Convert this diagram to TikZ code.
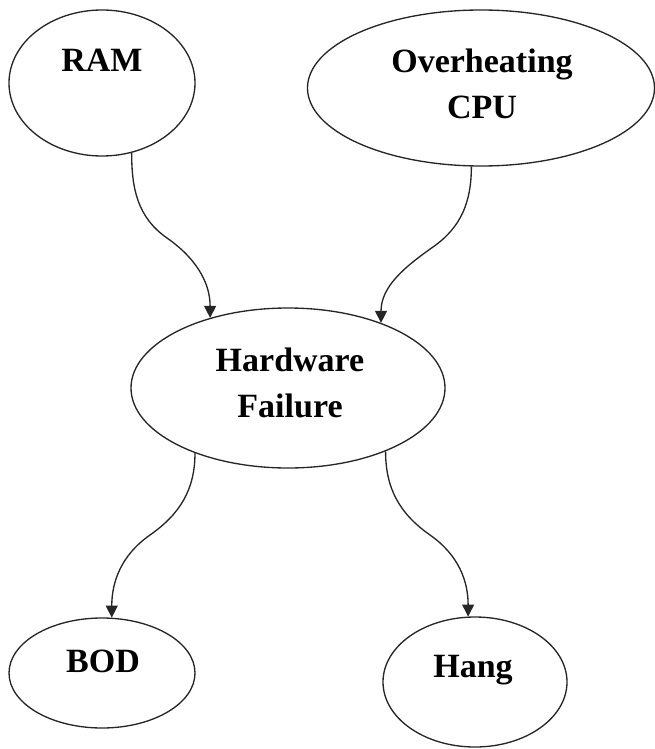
\documentclass[tikz,border=0pt]{standalone}
\usepackage{fontspec}
\setmainfont{Liberation Serif}
\usetikzlibrary{shapes.geometric,arrows.meta}
\begin{document}
\begin{tikzpicture}[x=0.75pt,y=0.75pt,
  bubble/.style={draw=black!85, ellipse, line width=1pt, inner sep=0pt},
  lbl/.style={font=\bfseries\fontsize{25.5}{34}\selectfont, align=center, inner sep=0pt},
  link/.style={draw=black!85, line width=1pt, -{Triangle[length=9pt,width=9pt]}}]
\useasboundingbox (0,0) rectangle (655,-749);

% causes
\node[bubble, minimum width=186*0.75pt, minimum height=146*0.75pt] (ram) at (102,-83) {};
\node[lbl, anchor=base] (ramtxt) at (102,-72) {RAM};

\node[bubble, minimum width=347*0.75pt, minimum height=156*0.75pt] (cpu) at (481,-88) {};
\node[lbl] (cputxt) at (482,-84) {Overheating\\CPU};

% central event
\node[bubble, minimum width=314*0.75pt, minimum height=160*0.75pt] (hw) at (288,-388) {};
\node[lbl] (hwtxt) at (290,-383) {Hardware\\Failure};

% effects
\node[bubble, minimum width=186*0.75pt, minimum height=110*0.75pt] (bod) at (102,-673) {};
\node[lbl, anchor=base] (bodtxt) at (103,-672) {BOD};

\node[bubble, minimum width=184*0.75pt, minimum height=130*0.75pt] (hang) at (475,-682) {};
\node[lbl, anchor=base] (hangtxt) at (473,-677) {Hang};

% bend points of the S-shaped links
\coordinate (b1) at (167,-238);
\coordinate (b2) at (433,-247);
\coordinate (b3) at (150,-535);
\coordinate (b4) at (430,-535);

\draw[link] (ram.-67) to[out=-90,in=145] (b1) to[out=-35,in=90] (hw.138);
\draw[link] (cpu.-97) to[out=-90,in=35] (b2) to[out=215,in=90] (hw.35);
\draw[link] (hw.-145) to[out=-90,in=35] (b3) to[out=215,in=90] (bod.80);
\draw[link] (hw.-33) to[out=-90,in=145] (b4) to[out=-35,in=90] (hang.96);
\end{tikzpicture}
\end{document}
